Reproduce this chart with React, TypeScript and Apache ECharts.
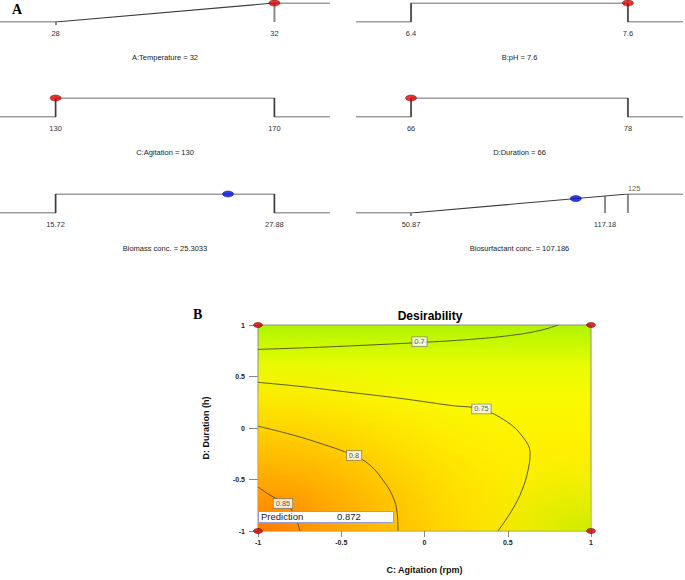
import React, { useEffect, useRef } from "react";
import * as echarts from "echarts";

// ---------- Panel A: ramp (desirability) plots ----------
const rampNames = ["A:Temperature", "B:pH", "C:Agitation", "D:Duration", "Biomass conc.", "Biosurfactant conc."];
const rampGoal = ["max", "range", "range", "range", "range", "max"];
const rampLow = [28, 6.4, 130, 66, 15.72, 50.87];
const rampHigh = [32, 7.6, 170, 78, 27.88, 125];
const rampTicks = [[28, 32], [6.4, 7.6], [130, 170], [66, 78], [15.72, 27.88], [50.87, 117.18, 125]];
const rampTickHeight = [[0, 1], [1, 1], [1, 1], [1, 1], [1, 1], [0, 0.89, 1]];
const rampBottomLabels = [[28, 32], [6.4, 7.6], [130, 170], [66, 78], [15.72, 27.88], [50.87, 117.18]];
const rampTopLabels = [[], [], [], [], [], [125]];
const rampValue = [32, 7.6, 130, 66, 25.3033, 107.186];
const rampValueText = ["32", "7.6", "130", "66", "25.3033", "107.186"];
const rampValueD = [1, 1, 1, 1, 1, 0.76];
const rampIsResponse = [false, false, false, false, true, true];

// ---------- Panel B: desirability contour ----------
const contour070 = [[-1, 0.763], [-0.748, 0.777], [-0.447, 0.797], [-0.027, 0.83], [0.273, 0.86], [0.514, 0.898], [0.694, 0.947], [0.802, 1.0]];
const contour075 = [[-1, 0.443], [-0.748, 0.404], [-0.447, 0.346], [-0.147, 0.288], [0.153, 0.22], [0.339, 0.182], [0.495, 0.061], [0.592, -0.09], [0.634, -0.245], [0.622, -0.409], [0.586, -0.603], [0.526, -0.797], [0.441, -1.0]];
const contour080 = [[-1, 0.017], [-0.808, -0.06], [-0.628, -0.148], [-0.429, -0.264], [-0.327, -0.361], [-0.237, -0.535], [-0.189, -0.671], [-0.165, -0.816], [-0.159, -1.0]];
const contour085 = [[-1, -0.574], [-0.928, -0.651], [-0.85, -0.724], [-0.808, -0.772], [-0.766, -0.908], [-0.748, -1.0]];
const contourLabels = [[-0.03, 0.838, "0.7"], [0.342, 0.185, "0.75"], [-0.423, -0.267, "0.8"], [-0.85, -0.734, "0.85"]];
const designPoints = [[-1, 1], [1, 1], [1, -1], [-1, -1]];
const PREDICTION = 0.872;

const FONT = "'Liberation Sans', Arial, Helvetica, sans-serif";
const SERIF = "'Liberation Serif', 'Times New Roman', serif";

const PB = { left: 258, top: 325, width: 333, height: 206 };

function rampPath(i: number): number[][] {
  const lo = rampLow[i];
  const hi = rampHigh[i];
  const ext = 0.254 * (hi - lo);
  const mn = lo - ext;
  const mx = hi + ext;
  if (rampGoal[i] === "max") return [[mn, 0], [lo, 0], [hi, 1], [mx, 1]];
  return [[mn, 0], [lo, 0], [lo, 1], [hi, 1], [hi, 0], [mx, 0]];
}

export default function App() {
  const ref = useRef<HTMLDivElement>(null);
  useEffect(() => {
    const chart = echarts.init(ref.current!, null, { renderer: "svg" });
    const grids: any[] = [];
    const xAxes: any[] = [];
    const yAxes: any[] = [];
    const series: any[] = [];
    const colLeft = [0, 356];
    const colWidth = [330, 327];
    const rowTop = [3, 98, 194];

    for (let i = 0; i < 6; i++) {
      const col = i % 2;
      const row = Math.floor(i / 2);
      const lo = rampLow[i];
      const hi = rampHigh[i];
      const ext = 0.254 * (hi - lo);
      grids.push({ left: colLeft[col], top: rowTop[row], width: colWidth[col], height: 19, show: false });
      xAxes.push({
        type: "value",
        gridIndex: i,
        min: lo - ext,
        max: hi + ext,
        axisLine: { show: false, onZero: false },
        splitLine: { show: false },
        axisTick: {
          show: rampGoal[i] === "max",
          customValues: [lo],
          length: 3,
          lineStyle: { color: "#8a8a8a", width: 2 },
        },
        axisLabel: {
          show: true,
          customValues: rampBottomLabels[i],
          formatter: (v: number) => String(v),
          fontSize: 7.5,
          color: "#333",
          fontFamily: FONT,
          margin: 7,
        },
        name: `${rampNames[i]} = ${rampValueText[i]}`,
        nameLocation: "middle",
        nameGap: 31,
        nameTextStyle: { fontSize: 7.5, color: "#222", fontFamily: FONT },
      });
      yAxes.push({ type: "value", gridIndex: i, min: 0, max: 1, show: false });

      rampTicks[i].forEach((v, k) => {
        const h = rampTickHeight[i][k];
        if (h > 0) {
          series.push({
            type: "line",
            xAxisIndex: i,
            yAxisIndex: i,
            data: [[v, 0], [v, h]],
            symbol: "none",
            silent: true,
            lineStyle: { color: "#8a8a8a", width: 2 },
            z: 2,
          });
        }
      });
      series.push({
        type: "line",
        xAxisIndex: i,
        yAxisIndex: i,
        data: rampPath(i),
        symbol: "none",
        silent: true,
        lineStyle: { color: "#3c3c3c", width: 1.2 },
        z: 3,
      });
      if (rampTopLabels[i].length) {
        series.push({
          type: "scatter",
          xAxisIndex: i,
          yAxisIndex: i,
          data: rampTopLabels[i].map((v) => [v, 1]),
          symbolSize: 0,
          silent: true,
          label: {
            show: true,
            formatter: (p: any) => String(p.value[0]),
            position: [0, -2],
            align: "left",
            verticalAlign: "bottom",
            fontSize: 7.5,
            color: "#333",
            fontFamily: FONT,
          },
        });
      }
      series.push({
        type: "scatter",
        xAxisIndex: i,
        yAxisIndex: i,
        data: [[rampValue[i], rampValueD[i]]],
        symbol: "circle",
        symbolSize: [11, 6],
        silent: true,
        itemStyle: {
          color: rampIsResponse[i] ? "#0010e0" : "#e00000",
          borderColor: rampIsResponse[i] ? "#000070" : "#700000",
          borderWidth: 0.6,
        },
        z: 5,
      });
    }

    // Panel B
    const gb = 6;
    grids.push({
      ...PB,
      show: true,
      borderColor: "#8c8c8c",
      borderWidth: 1,
      backgroundColor: {
        type: "linear",
        x: 0,
        y: 0,
        x2: 0,
        y2: 1,
        colorStops: [
          { offset: 0, color: "#b0f400" },
          { offset: 0.08, color: "#c6f800" },
          { offset: 0.2, color: "#e8fc00" },
          { offset: 0.35, color: "#f8fa00" },
          { offset: 0.6, color: "#fff000" },
          { offset: 1, color: "#ffe400" },
        ],
      },
    });
    xAxes.push({
      type: "value",
      gridIndex: gb,
      min: -1,
      max: 1,
      interval: 0.5,
      axisLine: { show: false, onZero: false },
      splitLine: { show: false },
      axisTick: { show: true, length: 6, lineStyle: { color: "#888", width: 1 } },
      axisLabel: { fontSize: 7, fontWeight: "bold", color: "#222", fontFamily: FONT, margin: 8 },
      name: "C: Agitation (rpm)",
      nameLocation: "middle",
      nameGap: 34,
      nameTextStyle: { fontSize: 9, fontWeight: "bold", color: "#111", fontFamily: FONT },
    });
    yAxes.push({
      type: "value",
      gridIndex: gb,
      min: -1,
      max: 1,
      interval: 0.5,
      axisLine: { show: false, onZero: false },
      splitLine: { show: false },
      axisTick: { show: true, length: 9, lineStyle: { color: "#888", width: 1 } },
      axisLabel: { fontSize: 7, fontWeight: "bold", color: "#222", fontFamily: FONT, margin: 13 },
      name: "D: Duration (h)",
      nameLocation: "middle",
      nameGap: 48,
      nameTextStyle: { fontSize: 9, fontWeight: "bold", color: "#111", fontFamily: FONT },
    });
    [contour070, contour075, contour080, contour085].forEach((c) => {
      series.push({
        type: "line",
        xAxisIndex: gb,
        yAxisIndex: gb,
        data: c,
        smooth: 0.4,
        symbol: "none",
        silent: true,
        lineStyle: { color: "#4a4a32", width: 0.9 },
        z: 3,
      });
    });
    series.push({
      type: "scatter",
      xAxisIndex: gb,
      yAxisIndex: gb,
      data: contourLabels,
      symbolSize: 0,
      silent: true,
      z: 6,
      label: {
        show: true,
        position: "inside",
        formatter: (p: any) => p.value[2],
        fontSize: 7.5,
        color: "#333",
        fontFamily: FONT,
        backgroundColor: "#ffffff",
        borderColor: "#777",
        borderWidth: 0.8,
        padding: [1, 2, 0, 2],
      },
    });
    series.push({
      type: "scatter",
      xAxisIndex: gb,
      yAxisIndex: gb,
      data: designPoints,
      symbol: "circle",
      symbolSize: [9, 5],
      silent: true,
      itemStyle: { color: "#cc0000", borderColor: "#660000", borderWidth: 0.6 },
      z: 8,
    });

    const option: any = {
      animation: false,
      backgroundColor: "#ffffff",
      title: {
        text: "Desirability",
        left: 425,
        top: 305,
        textAlign: "center",
        textStyle: { fontSize: 12, fontWeight: "bold", color: "#000", fontFamily: FONT },
      },
      grid: grids,
      xAxis: xAxes,
      yAxis: yAxes,
      series,
      graphic: [
        { type: "text", left: 12, top: 2, style: { text: "A", font: `bold 14px ${SERIF}`, fill: "#000" } },
        { type: "text", left: 193, top: 307, style: { text: "B", font: `bold 14px ${SERIF}`, fill: "#000" } },
        {
          type: "rect",
          left: PB.left,
          top: PB.top,
          z: 1,
          silent: true,
          shape: { x: 0, y: 0, width: PB.width, height: PB.height },
          style: {
            fill: {
              type: "radial",
              x: 1,
              y: 1,
              r: 0.42,
              colorStops: [
                { offset: 0, color: "rgba(196,236,0,0.85)" },
                { offset: 0.5, color: "rgba(214,244,0,0.45)" },
                { offset: 1, color: "rgba(240,250,0,0)" },
              ],
            },
          },
        },
        {
          type: "rect",
          left: PB.left,
          top: PB.top,
          z: 1,
          silent: true,
          shape: { x: 0, y: 0, width: PB.width, height: PB.height },
          style: {
            fill: {
              type: "radial",
              x: 0,
              y: 1,
              r: 0.85,
              colorStops: [
                { offset: 0, color: "rgba(255,122,0,1)" },
                { offset: 0.2, color: "rgba(255,150,0,0.95)" },
                { offset: 0.52, color: "rgba(255,188,0,0.75)" },
                { offset: 0.78, color: "rgba(255,212,0,0.35)" },
                { offset: 1, color: "rgba(255,230,0,0)" },
              ],
            },
          },
        },
        {
          type: "rect",
          left: 258,
          top: 511,
          z: 20,
          silent: true,
          shape: { x: 0, y: 0, width: 135, height: 11 },
          style: { fill: "#ffffff", stroke: "#9a9ad4", lineWidth: 1 },
        },
        {
          type: "text",
          left: 261,
          top: 511,
          z: 21,
          silent: true,
          style: { text: "Prediction", font: `9.5px ${FONT}`, fill: "#222" },
        },
        {
          type: "text",
          left: 337,
          top: 511,
          z: 21,
          silent: true,
          style: { text: String(PREDICTION), font: `9.5px ${FONT}`, fill: "#222" },
        },
      ],
    };
    chart.setOption(option);
    return () => chart.dispose();
  }, []);
  return (
    <div
      ref={ref}
      style={{ position: "fixed", left: 0, top: 0, width: 685, height: 580, background: "#fff" }}
    />
  );
}
